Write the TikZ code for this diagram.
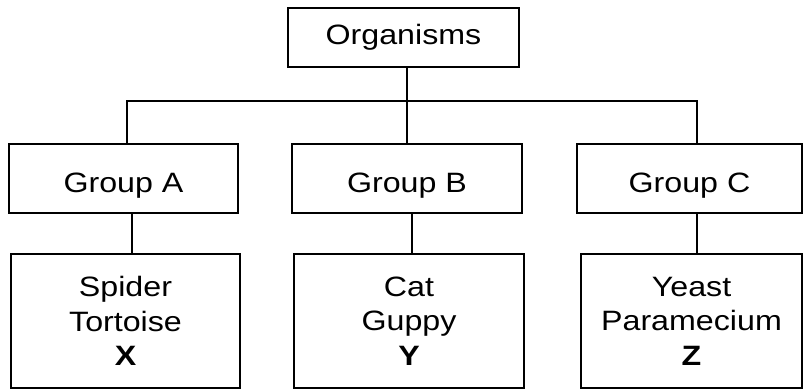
\documentclass[tikz,border=0pt]{standalone}
\usepackage{fontspec}
\setmainfont[FakeStretch=1.15]{Liberation Sans}
\begin{document}
\begin{tikzpicture}[x=1pt,y=-1pt,
  box/.style={draw=black, line width=1.5pt, rectangle, inner sep=0pt, align=center,
    font=\fontsize{28}{34.5}\selectfont},
  grp/.style={box, minimum height=69, text height=28pt, text depth=0pt},
  conn/.style={draw=black, line width=1.5pt}]
\useasboundingbox (0,0) rectangle (804,390);
\node[box, minimum width=231, minimum height=59] (org) at (403.5,37.5) {Organisms};
\node[grp, minimum width=229] (gA) at (123.5,178.5) {Group A};
\node[grp, minimum width=230] (gB) at (407,178.5) {Group B};
\node[grp, minimum width=225] (gC) at (689.5,178.5) {Group C};
\node[box, minimum width=229, minimum height=134] (bA) at (125.5,321) {Spider\\Tortoise\\\textbf{X}};
\node[box, minimum width=230, minimum height=134] (bB) at (409,321) {Cat\\Guppy\\\textbf{Y}};
\node[box, minimum width=221, minimum height=134] (bC) at (691.5,321) {Yeast\\Paramecium\\\textbf{Z}};
\coordinate (busA) at (127,101);
\coordinate (busB) at (407,101);
\coordinate (busC) at (697,101);
\coordinate (lA) at (132,230);
\coordinate (lB) at (412,230);
\coordinate (lC) at (697,230);
\draw[conn] (org.south -| busB) -- (gB.north -| busB);
\draw[conn] (gA.north -| busA) -- (busA) -- (busC) -- (gC.north -| busC);
\draw[conn] (gA.south -| lA) -- (bA.north -| lA);
\draw[conn] (gB.south -| lB) -- (bB.north -| lB);
\draw[conn] (gC.south -| lC) -- (bC.north -| lC);
\end{tikzpicture}
\end{document}
